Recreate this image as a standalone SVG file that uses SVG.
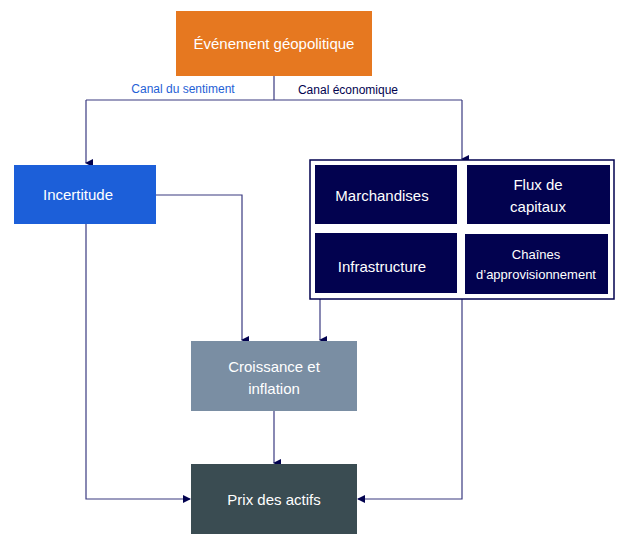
<svg xmlns="http://www.w3.org/2000/svg" width="630" height="550" viewBox="0 0 630 550">
<style>
text{font-family:"Liberation Sans",Arial,sans-serif;fill:#fff;text-anchor:middle}
.n{font-size:15px}
.c{fill:none;stroke:#3a3a80;stroke-width:1.2}
.d{fill:#02024f}
</style>
<defs><marker id="a" markerWidth="8" markerHeight="8" refX="4" refY="7" orient="auto-start-reverse" markerUnits="userSpaceOnUse" viewBox="0 0 8 8"><path d="M0,0 L8,0 L4,8 z" fill="#02024f"/></marker>
<marker id="r" markerWidth="8" markerHeight="8" refX="7" refY="4" orient="auto" markerUnits="userSpaceOnUse" viewBox="0 0 8 8"><path d="M0,0 L8,4 L0,8 z" fill="#02024f"/></marker></defs>
<g id="connectors">
<path class="c" d="M274,76 V100 M86,100 H462"/>
<path class="c" d="M86,100 V163" marker-end="url(#a)"/>
<path class="c" d="M462,100 V159" marker-end="url(#a)"/>
<path class="c" d="M156,195 H242 V340" marker-end="url(#a)"/>
<path class="c" d="M320,299 V340" marker-end="url(#a)"/>
<path class="c" d="M274,411 V463" marker-end="url(#a)"/>
<path class="c" d="M86,224 V499 H190" marker-end="url(#r)"/>
<path class="c" d="M462,299 V499 H358" marker-end="url(#r)"/>
<text x="183" y="93" font-size="12" style="fill:#1f5fd6">Canal du sentiment</text>
<text x="348" y="94" font-size="12" style="fill:#02024f">Canal économique</text>
</g>
<g id="event"><rect x="176" y="11" width="196" height="65" fill="#e67820"/><text class="n" x="274" y="49">Événement géopolitique</text></g>
<g id="incertitude"><rect x="14" y="165" width="142" height="59" fill="#1c5fd9"/><text class="n" x="78" y="200">Incertitude</text></g>
<g id="economic"><rect x="310" y="160" width="304" height="139" fill="#fff" stroke="#02024f" stroke-width="1.5"/>
<rect class="d" x="315" y="165" width="142" height="59"/><text class="n" x="382" y="201">Marchandises</text>
<rect class="d" x="467" y="165" width="143" height="59"/><text class="n" x="538" y="190">Flux de</text><text class="n" x="538" y="212">capitaux</text>
<rect class="d" x="315" y="233" width="142" height="60"/><text class="n" x="382" y="272">Infrastructure</text>
<rect class="d" x="465" y="234" width="143" height="60"/><text x="536" y="259" font-size="13">Chaînes</text><text x="536" y="279" font-size="13">d’approvisionnement</text></g>
<g id="croissance"><rect x="191" y="341" width="166" height="70" fill="#7a8ea3"/><text class="n" x="274" y="372">Croissance et</text><text class="n" x="274" y="394">inflation</text></g>
<g id="prix"><rect x="191" y="464" width="166" height="70" fill="#3a4c52"/><text class="n" x="274" y="505">Prix des actifs</text></g>
</svg>
